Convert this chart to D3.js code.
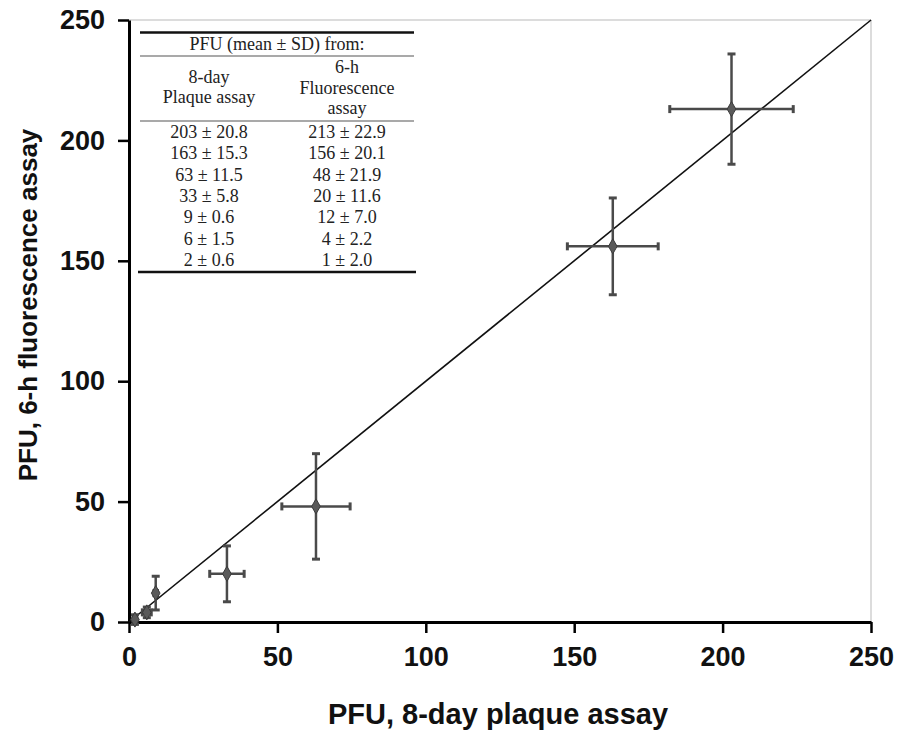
<!DOCTYPE html>
<html><head><meta charset="utf-8">
<script src="https://cdn.jsdelivr.net/npm/d3@7"></script>
<style>body{margin:0;background:#fff}svg{display:block}</style>
</head><body><div id="chart"></div>
<script>
const plaqueMean = [203, 163, 63, 33, 9, 6, 2];
const plaqueSD = [20.8, 15.3, 11.5, 5.8, 0.6, 1.5, 0.6];
const fluorMean = [213, 156, 48, 20, 12, 4, 1];
const fluorSD = [22.9, 20.1, 21.9, 11.6, 7.0, 2.2, 2.0];
const tickValues = [0, 50, 100, 150, 200, 250];
const xTitle = "PFU, 8-day plaque assay";
const yTitle = "PFU, 6-h fluorescence assay";
const tableHeader = "PFU (mean ± SD) from:";
const col1Head = ["8-day", "Plaque assay"];
const col2Head = ["6-h", "Fluorescence", "assay"];

const W = 900, H = 742;
const svg = d3.select("#chart").append("svg").attr("width", W).attr("height", H);
const x = d3.scaleLinear().domain([0, 250]).range([129, 871]);
const y = d3.scaleLinear().domain([0, 250]).range([622, 20]);
const sans = "'Liberation Sans', Arial, sans-serif";
const serif = "'Liberation Serif', 'Times New Roman', serif";

// light frame
svg.append("line").attr("x1", x(0)).attr("x2", x(250)).attr("y1", y(250)).attr("y2", y(250))
  .attr("stroke", "#d0d0d0").attr("stroke-width", 1.5);
svg.append("line").attr("x1", x(250)).attr("x2", x(250)).attr("y1", y(250)).attr("y2", y(0))
  .attr("stroke", "#d0d0d0").attr("stroke-width", 1.5);

// axes
const xAxis = svg.append("g").attr("transform", `translate(0,${y(0)})`)
  .call(d3.axisBottom(x).tickValues(tickValues).tickSize(11).tickSizeOuter(0).tickPadding(14));
const yAxis = svg.append("g").attr("transform", `translate(${x(0)},0)`)
  .call(d3.axisLeft(y).tickValues(tickValues).tickSize(11).tickSizeOuter(0).tickPadding(13));
[xAxis, yAxis].forEach(g => {
  g.select(".domain").attr("stroke", "#000").attr("stroke-width", 3);
  g.selectAll(".tick line").attr("stroke", "#000").attr("stroke-width", 2.5);
  g.selectAll(".tick text").attr("font-family", sans).attr("font-weight", "bold")
    .attr("font-size", 27).attr("fill", "#111");
});
xAxis.selectAll(".tick text").attr("dy", "0.71em");

// titles
svg.append("text").attr("x", 498).attr("y", 724).attr("text-anchor", "middle")
  .attr("font-family", sans).attr("font-weight", "bold").attr("font-size", 29).attr("fill", "#111")
  .text(xTitle);
svg.append("text").attr("transform", "translate(37,305) rotate(-90)").attr("text-anchor", "middle")
  .attr("font-family", sans).attr("font-weight", "bold").attr("font-size", 26).attr("fill", "#111")
  .text(yTitle);

// identity line
svg.append("line").attr("x1", x(0)).attr("y1", y(0)).attr("x2", x(250)).attr("y2", y(250))
  .attr("stroke", "#111").attr("stroke-width", 1.6);

// data
const data = plaqueMean.map((m, i) => ({x: m, xs: plaqueSD[i], y: fluorMean[i], ys: fluorSD[i]}));
const eb = svg.append("g").attr("stroke", "#4a4a4a").attr("stroke-width", 2.5).attr("fill", "none");
const cap = 4;
data.forEach(d => {
  eb.append("line").attr("x1", x(d.x - d.xs)).attr("x2", x(d.x + d.xs)).attr("y1", y(d.y)).attr("y2", y(d.y));
  eb.append("line").attr("x1", x(d.x)).attr("x2", x(d.x)).attr("y1", y(d.y - d.ys)).attr("y2", y(d.y + d.ys));
  [d.x - d.xs, d.x + d.xs].forEach(v => eb.append("line").attr("x1", x(v)).attr("x2", x(v))
    .attr("y1", y(d.y) - cap).attr("y2", y(d.y) + cap).attr("stroke-width", 3));
  [d.y - d.ys, d.y + d.ys].forEach(v => eb.append("line").attr("y1", y(v)).attr("y2", y(v))
    .attr("x1", x(d.x) - cap).attr("x2", x(d.x) + cap).attr("stroke-width", 3));
});
svg.append("g").selectAll("path").data(data).join("path")
  .attr("transform", d => `translate(${x(d.x)},${y(d.y)})`)
  .attr("d", d3.symbol().type(d3.symbolDiamond).size(65))
  .attr("fill", "#5a5a5a").attr("stroke", "#3a3a3a").attr("stroke-width", 1);

// table
const tb = svg.append("g").attr("font-family", serif).attr("font-size", 18).attr("fill", "#222")
  .attr("text-anchor", "middle");
const tL = 140, tR = 414, c1 = 209, c2 = 347;
tb.append("line").attr("x1", tL).attr("x2", tR).attr("y1", 32.5).attr("y2", 32.5).attr("stroke", "#111").attr("stroke-width", 2.5);
tb.append("line").attr("x1", tL).attr("x2", tR).attr("y1", 56).attr("y2", 56).attr("stroke", "#555").attr("stroke-width", 1.2);
tb.append("line").attr("x1", tL).attr("x2", tR).attr("y1", 121).attr("y2", 121).attr("stroke", "#555").attr("stroke-width", 1.2);
tb.append("line").attr("x1", 138).attr("x2", 416).attr("y1", 272).attr("y2", 272).attr("stroke", "#111").attr("stroke-width", 2.5);
tb.append("text").attr("x", (tL + tR) / 2).attr("y", 50).text(tableHeader);
col1Head.forEach((t, i) => tb.append("text").attr("x", c1).attr("y", 83 + i * 20).text(t));
col2Head.forEach((t, i) => tb.append("text").attr("x", c2).attr("y", 73 + i * 20.5).text(t));
data.forEach((d, i) => {
  const by = 138 + i * 21.3;
  tb.append("text").attr("x", c1).attr("y", by).text(`${d.x} ± ${d.xs.toFixed(1)}`);
  tb.append("text").attr("x", c2).attr("y", by).text(`${d.y} ± ${d.ys.toFixed(1)}`);
});
</script></body></html>
